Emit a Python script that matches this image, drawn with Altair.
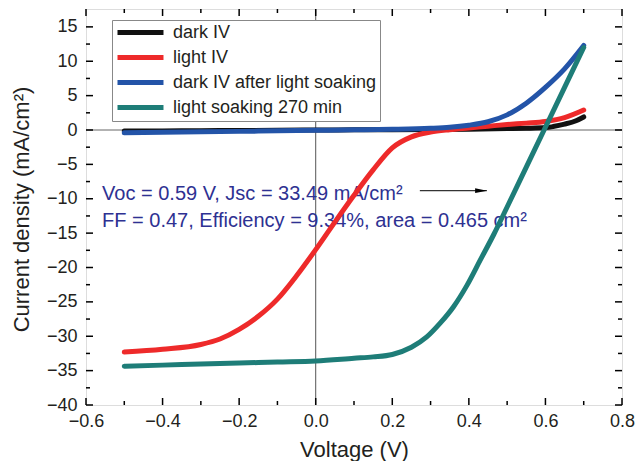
import altair as alt
import pandas as pd

# ---------------- data ----------------
series_names = ["dark IV", "light IV", "dark IV after light soaking", "light soaking 270 min"]
series_colors = ["#111111", "#EE2A2A", "#2354A8", "#1E7D78"]

dark_v = [-0.5, -0.4, -0.3, -0.2, -0.1, 0.0, 0.1, 0.2, 0.3, 0.4, 0.5, 0.55, 0.6, 0.62, 0.65, 0.68, 0.7]
dark_j = [-0.15, -0.13, -0.1, -0.08, -0.05, 0.0, 0.02, 0.05, 0.08, 0.12, 0.2, 0.25, 0.35, 0.5, 0.85, 1.35, 1.9]

light_v = [-0.5, -0.4, -0.3, -0.25, -0.2, -0.15, -0.1, -0.05, 0.0, 0.05, 0.1, 0.15, 0.2, 0.25, 0.3,
           0.35, 0.4, 0.45, 0.5, 0.55, 0.6, 0.65, 0.7]
light_j = [-32.3, -31.9, -31.2, -30.4, -29.0, -27.1, -24.6, -21.2, -17.4, -13.4, -9.5, -5.8, -2.6, -1.0,
           -0.3, 0.05, 0.3, 0.55, 0.8, 1.0, 1.25, 1.8, 2.9]

darkls_v = [-0.5, -0.4, -0.3, -0.2, -0.1, 0.0, 0.1, 0.2, 0.3, 0.35, 0.4, 0.45, 0.5, 0.55, 0.6, 0.65, 0.7]
darkls_j = [-0.4, -0.33, -0.27, -0.2, -0.12, -0.05, 0.02, 0.1, 0.25, 0.4, 0.7, 1.2, 2.2, 3.9, 6.2, 8.9, 12.3]

ls_v = [-0.5, -0.4, -0.3, -0.2, -0.1, 0.0, 0.1, 0.15, 0.2, 0.25, 0.29, 0.325, 0.36, 0.395, 0.43, 0.465,
        0.5, 0.55, 0.6, 0.65, 0.7]
ls_j = [-34.35, -34.2, -34.05, -33.9, -33.75, -33.6, -33.2, -33.0, -32.65, -31.6, -30.1, -28.1, -25.7,
        -22.6, -18.9, -15.2, -11.2, -5.4, 0.4, 6.2, 12.0]

x_major = [-0.6, -0.4, -0.2, 0.0, 0.2, 0.4, 0.6, 0.8]
x_minor = [-0.5, -0.3, -0.1, 0.1, 0.3, 0.5, 0.7]
y_major = [-40, -35, -30, -25, -20, -15, -10, -5, 0, 5, 10, 15]
y_minor = [-37.5, -32.5, -27.5, -22.5, -17.5, -12.5, -7.5, -2.5, 2.5, 7.5, 12.5]

note_lines = ["Voc = 0.59 V, Jsc = 33.49 mA/cm²", "FF = 0.47, Efficiency = 9.34%, area = 0.465 cm²"]
note_v = [-0.558, -0.558]
note_j = [-9.35, -13.2]

arrow_v = [0.272]
arrow_v2 = [0.447]
arrow_j = [-8.83]
arrowhead_v = [0.432]

x_domain = [-0.6, 0.8]
y_domain = [-40, 17.6]

# ---------------- tables ----------------
rows = []
for name, vs, js in zip(series_names, [dark_v, light_v, darkls_v, ls_v], [dark_j, light_j, darkls_j, ls_j]):
    for i, (v, j) in enumerate(zip(vs, js)):
        rows.append({"series": name, "V": v, "J": j, "i": i})
curves = pd.DataFrame(rows)

W, H = 536, 396
FONT = "Liberation Sans"
TXT = "#231F20"

X = alt.X("V:Q", scale=alt.Scale(domain=x_domain, nice=False, zero=False),
          axis=alt.Axis(values=x_major, format=".1f", title="Voltage (V)", ticks=False, tickSize=0,
                        domain=False, grid=False, labelFontSize=18, labelFont=FONT, labelColor=TXT,
                        labelPadding=7, labelFlush=False, titleFontSize=22, titleFont=FONT,
                        titleFontWeight="normal", titleColor=TXT, titleY=44, titleBaseline="middle"))
Y = alt.Y("J:Q", scale=alt.Scale(domain=y_domain, nice=False, zero=False),
          axis=alt.Axis(values=y_major, format="d", title="Current density (mA/cm²)", ticks=False,
                        tickSize=0, domain=False, grid=False, labelFontSize=18, labelFont=FONT,
                        labelColor=TXT, labelPadding=9, labelFlush=False, titleFontSize=22,
                        titleFont=FONT, titleFontWeight="normal", titleColor=TXT, titleX=-65,
                        titleY=200, titleBaseline="middle", titleAlign="center"))

zero_h = alt.Chart(pd.DataFrame({"J": [0]})).mark_rule(color="#666", strokeWidth=1).encode(y=Y)
zero_v = alt.Chart(pd.DataFrame({"V": [0.0]})).mark_rule(color="#555", strokeWidth=1).encode(x=X)

lines = alt.Chart(curves).mark_line(strokeWidth=5, interpolate="monotone", strokeCap="round").encode(
    x=X, y=Y,
    color=alt.Color("series:N", scale=alt.Scale(domain=series_names, range=series_colors),
                    sort=series_names,
                    legend=alt.Legend(orient="none", legendX=26, legendY=11, title=None,
                                      symbolType="M-1,0H5.57", symbolSize=196, symbolStrokeWidth=5,
                                      labelFontSize=18, labelFont=FONT, labelColor=TXT,
                                      strokeColor="#888", fillColor="white", padding=3,
                                      rowPadding=4, labelOffset=39, labelLimit=400)),
    order="i:Q",
)

xmaj = pd.DataFrame({"V": x_major})
xmin = pd.DataFrame({"V": x_minor})
ymaj = pd.DataFrame({"J": y_major})
ymin = pd.DataFrame({"J": y_minor})
TK = dict(color="black", strokeWidth=1.5)
ticks = [
    alt.Chart(xmaj).mark_rule(**TK).encode(x=X, y=alt.value(H), y2=alt.value(H - 7)),
    alt.Chart(xmaj).mark_rule(**TK).encode(x=X, y=alt.value(0), y2=alt.value(7)),
    alt.Chart(xmin).mark_rule(**TK).encode(x=X, y=alt.value(H), y2=alt.value(H - 4)),
    alt.Chart(xmin).mark_rule(**TK).encode(x=X, y=alt.value(0), y2=alt.value(4)),
    alt.Chart(ymaj).mark_rule(**TK).encode(y=Y, x=alt.value(0), x2=alt.value(7)),
    alt.Chart(ymaj).mark_rule(**TK).encode(y=Y, x=alt.value(W), x2=alt.value(W - 7)),
    alt.Chart(ymin).mark_rule(**TK).encode(y=Y, x=alt.value(0), x2=alt.value(4)),
    alt.Chart(ymin).mark_rule(**TK).encode(y=Y, x=alt.value(W), x2=alt.value(W - 4)),
]

notes = alt.Chart(pd.DataFrame({"V": note_v, "J": note_j, "t": note_lines})).mark_text(
    align="left", baseline="middle", fontSize=20, font=FONT, color="#2E3192").encode(x=X, y=Y, text="t:N")

arrow = alt.Chart(pd.DataFrame({"V": arrow_v, "V2": arrow_v2, "J": arrow_j})).mark_rule(
    color="black", strokeWidth=1).encode(x=X, x2="V2:Q", y=Y)
head = alt.Chart(pd.DataFrame({"V": arrowhead_v, "J": arrow_j})).mark_point(
    shape="M-1,-0.4L1,0L-1,0.4Z", size=144, filled=True, color="black", opacity=1).encode(x=X, y=Y)

chart = alt.layer(zero_h, zero_v, *ticks, notes, arrow, head, lines).properties(
    width=W, height=H, autosize=alt.AutoSizeParams(type="none"),
    padding={"left": 86, "top": 9, "right": 14, "bottom": 56},
).configure_view(stroke="black", strokeWidth=1.5).configure(background="white")

chart.save("out.html", embed_options={"renderer": "svg", "actions": False})
